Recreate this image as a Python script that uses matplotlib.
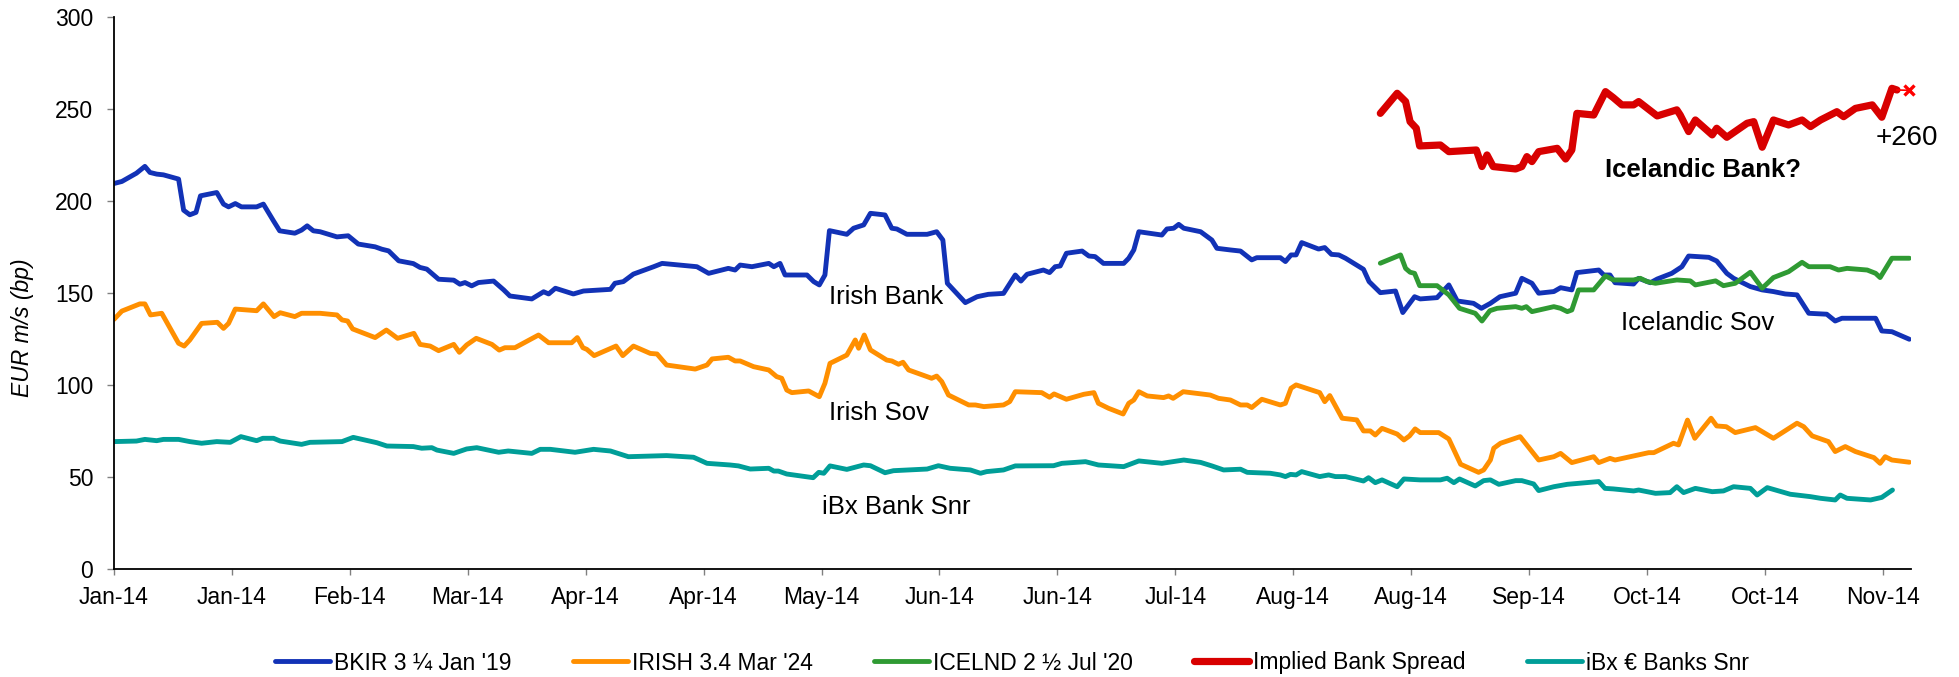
import matplotlib
matplotlib.use("Agg")
import matplotlib.pyplot as plt
import matplotlib.dates as mdates
import pandas as pd

plt.rcParams['font.family'] = ['Liberation Sans', 'DejaVu Sans']

# ---- data: day offsets from the first observation and spreads in bp ----
START = pd.Timestamp('2014-01-07')
AXIS_END_DAY = 320
TICK_STEP_DAYS = 21
N_TICKS = 16

bkir_days = [0, 1.4, 4.0, 5.5, 6.4, 7.6, 8.8, 11.5, 12.4, 13.5, 14.6, 15.4, 18.3, 19.5, 20.4, 21.6, 22.7,
             25.4, 26.6, 28.4, 29.5, 32.2, 33.4, 34.4, 35.5, 36.7, 39.7, 41.7, 43.5, 46.5, 47.7, 48.9,
             50.7, 53.3, 54.5, 55.7, 57.8, 60.5, 61.6, 62.5, 63.7, 64.9, 67.6, 69.4, 70.5, 74.4, 76.5,
             77.4, 78.6, 81.8, 83.6, 88.4, 89.2, 90.7, 92.5, 96.1, 97.6, 103.8, 105.9, 109.4, 110.6,
             111.5, 113.6, 116.6, 117.5, 118.6, 119.5, 123.4, 124.6, 125.6, 126.6, 127.4, 130.5, 131.7,
             133.5, 134.7, 137.3, 138.5, 139.4, 141.2, 144.8, 146.5, 147.6, 148.4, 151.6, 153.7, 155.7,
             158.4, 160.5, 161.5, 162.6, 165.5, 166.6, 167.6, 168.5, 169.6, 172.4, 173.6, 174.7, 176.2,
             179.8, 180.7, 181.6, 182.5, 186.6, 187.5, 188.7, 189.6, 190.5, 193.5, 195.5, 196.4, 198.8,
             200.6, 202.6, 203.5, 207.7, 208.6, 209.6, 210.5, 211.5, 214.5, 215.6, 216.8, 218.1, 219.3,
             222.5, 223.5, 225.5, 228.2, 229.5, 231.6, 232.6, 235.6, 237.7, 239.2, 242.1, 243.5, 245.1,
             246.8, 249.6, 250.7, 252.5, 253.7, 256.4, 257.6, 259.6, 260.5, 264.4, 265.3, 266.4, 267.3,
             270.6, 271.5, 273.6, 274.8, 277.4, 279.2, 280.4, 284.0, 285.4, 287.2, 288.4, 291.4, 293.5,
             295.5, 297.6, 299.7, 301.8, 305.0, 306.5, 307.7, 313.7, 314.8, 316.6, 319.7]
bkir_vals = [209.4, 210.5, 215.0, 218.7, 215.4, 214.5, 214.1, 211.8, 194.9, 192.4, 193.7, 202.7, 204.5,
             198.2, 196.7, 198.5, 196.7, 196.7, 198.2, 189.1, 183.7, 182.4, 184.1, 186.4, 183.7, 183.2,
             180.4, 181.0, 176.5, 175.0, 173.7, 172.8, 167.4, 165.9, 163.8, 162.9, 157.4, 156.9, 154.7,
             155.6, 153.8, 155.6, 156.4, 151.6, 148.3, 146.7, 150.6, 149.4, 152.5, 149.4, 151.0, 151.9,
             155.2, 156.1, 160.2, 164.2, 166.0, 164.2, 160.6, 163.3, 162.4, 165.1, 164.2, 166.0, 164.2,
             166.0, 159.7, 159.7, 156.1, 154.3, 159.7, 183.8, 181.8, 185.1, 186.9, 193.2, 192.3, 185.1,
             184.7, 181.8, 181.8, 183.2, 178.7, 155.2, 144.7, 147.9, 149.2, 149.7, 159.7, 156.4, 160.1,
             162.4, 161.0, 164.2, 164.6, 171.5, 172.7, 170.0, 169.7, 166.0, 166.0, 168.8, 173.3, 183.2,
             181.4, 184.7, 185.1, 187.2, 185.1, 183.2, 178.7, 174.2, 173.3, 172.7, 167.9, 169.1, 169.1,
             167.0, 170.6, 170.6, 177.3, 173.8, 174.6, 170.9, 170.6, 168.8, 162.8, 156.1, 150.1, 151.0,
             139.3, 147.9, 146.7, 147.4, 154.3, 145.6, 144.3, 141.6, 144.3, 147.9, 149.8, 157.9, 155.2,
             149.8, 150.7, 152.8, 151.6, 161.0, 162.4, 159.7, 159.7, 155.5, 154.8, 157.9, 155.5, 157.5,
             160.6, 164.2, 170.0, 169.3, 167.3, 160.6, 157.9, 153.4, 151.6, 150.7, 149.4, 148.9, 138.9,
             138.4, 134.7, 136.2, 136.2, 129.3, 128.9, 124.8]

irish_days = [0, 1.4, 4.6, 5.5, 6.5, 8.5, 11.5, 12.5, 13.5, 15.6, 18.4, 19.5, 20.4, 21.6, 25.4, 26.6,
              28.5, 29.6, 32.2, 33.4, 36.7, 39.7, 40.6, 41.6, 42.5, 46.5, 48.5, 50.5, 53.4, 54.5, 56.3,
              57.8, 60.5, 61.5, 62.8, 64.5, 67.3, 68.6, 69.6, 71.4, 75.6, 77.4, 81.5, 82.5, 83.5, 84.2,
              85.5, 89.4, 90.6, 92.5, 95.5, 96.7, 98.4, 103.5, 105.6, 106.5, 109.4, 110.6, 111.5, 113.9,
              116.6, 118.0, 118.9, 119.8, 120.7, 123.7, 125.6, 126.6, 127.5, 130.5, 132.0, 132.6, 133.6,
              134.7, 137.6, 138.5, 139.7, 140.5, 141.5, 145.6, 146.5, 147.4, 148.6, 152.2, 153.4, 154.9,
              158.4, 159.5, 160.5, 165.2, 166.6, 167.4, 169.6, 172.7, 174.5, 175.3, 177.1, 179.7, 180.7,
              181.6, 182.5, 184.0, 186.9, 187.8, 188.6, 190.4, 195.2, 196.7, 198.8, 200.6, 201.8, 202.6,
              204.4, 207.7, 208.6, 209.6, 210.5, 214.7, 215.6, 216.5, 218.7, 221.3, 222.5, 223.7, 224.6,
              225.8, 228.5, 229.7, 230.7, 231.7, 232.6, 235.9, 237.7, 239.8, 243.0, 243.9, 245.1, 245.7,
              246.9, 250.4, 253.7, 256.4, 257.6, 259.6, 263.5, 264.4, 266.4, 267.3, 270.6, 273.3, 274.2,
              277.7, 278.6, 280.2, 281.5, 284.4, 285.4, 287.1, 288.7, 292.3, 293.5, 295.5, 299.7, 300.9,
              302.4, 305.3, 306.5, 308.3, 310.1, 313.4, 314.5, 315.4, 316.6, 319.7]
irish_vals = [135.6, 140.1, 144.0, 144.0, 138.0, 138.9, 122.6, 121.1, 124.4, 133.4, 134.0, 130.7, 133.4,
              141.2, 140.3, 144.0, 137.1, 139.2, 137.1, 138.9, 138.9, 138.0, 135.3, 134.7, 130.4, 125.7,
              129.8, 125.3, 128.0, 122.0, 121.1, 118.6, 122.0, 117.7, 121.7, 125.3, 122.0, 118.9, 120.2,
              120.2, 127.1, 122.9, 122.9, 125.7, 120.2, 119.3, 115.9, 121.1, 115.9, 121.1, 117.1, 116.8,
              110.8, 108.6, 110.8, 114.1, 115.0, 113.0, 113.0, 109.9, 108.1, 104.5, 103.6, 97.2, 95.8,
              96.7, 93.6, 100.9, 111.7, 116.2, 124.4, 119.9, 127.1, 119.0, 113.5, 113.0, 111.2, 112.3,
              108.1, 103.6, 104.8, 101.8, 94.5, 89.1, 89.1, 88.2, 89.1, 90.9, 96.3, 95.8, 93.3, 95.1,
              92.2, 94.9, 95.8, 90.0, 87.3, 84.2, 90.0, 91.8, 96.3, 94.0, 93.1, 94.0, 92.7, 96.3, 94.5,
              92.7, 91.8, 89.1, 89.1, 87.7, 92.2, 89.1, 90.0, 98.2, 100.0, 95.8, 90.9, 94.2, 81.9, 81.0,
              75.0, 75.0, 72.8, 76.4, 73.3, 70.1, 72.3, 76.1, 74.1, 74.1, 70.6, 56.9, 52.5, 53.8, 59.2,
              65.6, 68.3, 71.9, 59.2, 61.0, 62.8, 57.8, 61.0, 57.8, 60.1, 59.2, 61.4, 63.2, 63.2, 68.3,
              67.4, 80.9, 71.0, 81.9, 77.7, 77.3, 74.1, 76.8, 74.6, 71.0, 79.2, 77.3, 72.3, 69.2, 63.8,
              66.5, 63.8, 60.5, 57.4, 61.0, 59.2, 58.0]

icelnd_days = [225.5, 229.1, 230.0, 230.8, 231.6, 232.5, 235.6, 237.7, 239.6, 242.4, 243.6, 245.0, 246.3,
               249.6, 250.7, 251.5, 252.5, 256.4, 257.6, 258.8, 259.6, 260.8, 263.5, 265.6, 267.0, 270.6,
               271.8, 273.0, 274.5, 278.3, 280.7, 281.6, 285.2, 286.6, 288.7, 291.4, 293.5, 295.5, 298.2,
               300.6, 301.8, 305.6, 307.1, 308.6, 312.2, 313.7, 314.5, 316.6, 319.7]
icelnd_vals = [166.1, 170.6, 163.3, 161.2, 160.6, 153.9, 153.9, 148.9, 141.6, 138.9, 134.7, 140.3, 141.6,
               142.5, 141.6, 142.5, 139.8, 142.5, 141.6, 139.8, 140.7, 151.6, 151.6, 159.2, 157.0, 157.0,
               157.9, 156.1, 155.2, 157.0, 156.5, 154.3, 156.5, 153.9, 155.2, 161.2, 152.5, 158.3, 161.5,
               166.6, 164.2, 164.2, 162.4, 163.3, 162.4, 160.6, 158.3, 168.8, 168.8]

implied_days = [225.5, 228.5, 230.0, 230.8, 231.9, 232.5, 236.2, 237.7, 242.6, 243.6, 244.5, 245.6, 249.6,
                250.7, 251.6, 252.5, 253.7, 257.0, 258.5, 259.6, 260.5, 263.5, 265.6, 267.0, 268.5, 270.6,
                271.5, 274.8, 278.3, 278.9, 280.4, 281.6, 284.6, 285.4, 287.2, 290.8, 292.0, 293.5, 295.5,
                298.2, 300.6, 302.1, 303.9, 306.8, 308.0, 310.1, 313.1, 314.8, 316.6, 317.5]
implied_vals = [247.5, 258.4, 253.9, 243.0, 239.4, 229.8, 230.3, 226.7, 227.6, 218.6, 224.9, 218.6, 217.3,
                218.6, 224.0, 221.3, 226.7, 228.5, 222.7, 227.6, 247.5, 246.6, 259.3, 256.0, 252.1, 252.1,
                253.9, 246.1, 249.4, 246.6, 237.6, 243.9, 235.8, 239.4, 234.5, 242.1, 243.0, 229.1, 243.9,
                241.2, 243.9, 240.3, 243.9, 248.4, 245.7, 250.2, 252.1, 245.4, 261.1, 260.2]

# latest implied spread, marked with a cross and labelled
latest_day = 319.7
latest_spread = 260

ibx_days = [0, 4.0, 5.5, 7.6, 8.8, 11.5, 13.5, 15.6, 18.3, 20.7, 22.6, 25.4, 26.5, 28.4, 29.6, 33.4, 34.9,
            40.6, 42.6, 46.8, 48.6, 53.3, 54.8, 56.6, 57.5, 60.5, 62.8, 64.6, 68.5, 70.2, 74.4, 75.9, 77.7,
            82.1, 85.4, 88.4, 91.6, 98.4, 103.2, 105.6, 109.7, 111.2, 113.3, 116.6, 117.5, 118.3, 119.8,
            124.5, 125.5, 126.4, 127.5, 130.5, 133.5, 134.7, 137.3, 138.8, 144.8, 146.8, 148.9, 152.5,
            154.3, 155.4, 158.4, 160.5, 167.3, 168.8, 173.0, 175.3, 179.8, 182.5, 186.6, 190.5, 193.5,
            195.5, 197.6, 200.6, 201.8, 205.9, 207.7, 208.6, 209.5, 210.5, 211.5, 214.7, 216.3, 217.5,
            219.3, 222.5, 223.4, 224.6, 225.8, 228.5, 229.7, 232.6, 236.2, 237.4, 238.6, 239.6, 242.4,
            243.9, 245.1, 246.6, 249.6, 250.7, 252.8, 253.7, 256.4, 258.8, 264.4, 265.5, 267.0, 270.6,
            271.5, 274.5, 277.1, 278.3, 279.5, 281.6, 284.6, 286.6, 288.4, 291.4, 292.6, 294.4, 298.5,
            302.1, 303.9, 306.5, 307.4, 308.6, 312.8, 314.8, 316.7]
ibx_vals = [69.2, 69.5, 70.4, 69.7, 70.4, 70.4, 69.2, 68.3, 69.2, 68.8, 71.9, 69.7, 71.0, 71.0, 69.5, 67.7,
            68.8, 69.2, 71.5, 68.6, 66.8, 66.5, 65.6, 65.9, 64.6, 62.8, 65.2, 65.9, 63.4, 64.1, 62.8, 65.0,
            65.0, 63.4, 65.0, 64.1, 61.0, 61.6, 60.7, 57.4, 56.5, 56.0, 54.3, 54.7, 53.2, 53.2, 51.6, 49.6,
            52.5, 52.0, 56.0, 54.1, 56.5, 56.1, 52.3, 53.4, 54.3, 56.1, 54.7, 53.8, 52.0, 52.9, 53.8, 56.0,
            56.1, 57.4, 58.3, 56.5, 55.6, 58.7, 57.4, 59.2, 57.9, 56.0, 53.8, 54.2, 52.5, 52.0, 51.1, 50.2,
            51.4, 51.1, 52.9, 50.2, 51.1, 50.2, 50.2, 47.8, 49.6, 46.9, 48.4, 44.7, 48.9, 48.4, 48.4, 49.3,
            46.9, 48.9, 45.1, 48.0, 48.4, 46.0, 48.0, 48.0, 46.2, 42.6, 44.7, 46.0, 47.5, 43.8, 43.5, 42.4,
            42.9, 41.1, 41.5, 44.7, 41.5, 43.8, 42.0, 42.4, 44.7, 43.8, 40.2, 44.2, 40.6, 39.3, 38.4, 37.5,
            40.2, 38.4, 37.5, 38.9, 42.9]

series_labels = ["BKIR 3 ¼ Jan '19", "IRISH 3.4 Mar '24", "ICELND 2 ½ Jul '20",
                 "Implied Bank Spread", "iBx € Banks Snr"]
y_ticks = [0, 50, 100, 150, 200, 250, 300]


def to_dates(days):
    return START + pd.to_timedelta(days, unit='D')


# ---- figure ----
W, H = 1959, 677
fig = plt.figure(figsize=(W / 100, H / 100), dpi=100)
ax = fig.add_axes([114 / W, 1 - 569 / H, (1911 - 114) / W, (569 - 16.7) / H])

BLUE = '#1232B6'
ORANGE = '#FF8F00'
GREEN = '#2F9A33'
RED = '#D80000'
TEAL = '#009E98'

line_kw = dict(solid_joinstyle='round', solid_capstyle='round')
h1, = ax.plot(to_dates(bkir_days), bkir_vals, color=BLUE, lw=3.5, **line_kw)
h2, = ax.plot(to_dates(irish_days), irish_vals, color=ORANGE, lw=3.5, **line_kw)
h3, = ax.plot(to_dates(icelnd_days), icelnd_vals, color=GREEN, lw=3.5, **line_kw)
h4, = ax.plot(to_dates(implied_days), implied_vals, color=RED, lw=5.2, **line_kw)
h5, = ax.plot(to_dates(ibx_days), ibx_vals, color=TEAL, lw=3.5, **line_kw)

# short connector and cross on the most recent implied spread
ax.plot(to_dates([implied_days[-1], latest_day]), [implied_vals[-1], latest_spread],
        color='#FF0000', lw=1.2)
ax.plot(to_dates([latest_day]), [latest_spread], linestyle='none', marker='x',
        color='#FF0000', markersize=7, markeredgewidth=2.4, clip_on=False)

# axes styling
ax.set_ylim(0, 300)
ax.set_yticks(y_ticks)
ax.set_xlim(START, START + pd.Timedelta(days=AXIS_END_DAY))
ax.set_xticks(list(pd.date_range(START, periods=N_TICKS, freq=f'{TICK_STEP_DAYS}D')))
ax.xaxis.set_major_formatter(mdates.DateFormatter('%b-%y'))
for side in ('top', 'right'):
    ax.spines[side].set_visible(False)
for side in ('left', 'bottom'):
    ax.spines[side].set_linewidth(1.3)
    ax.spines[side].set_color('black')
ax.tick_params(axis='y', direction='out', length=5, width=1, color='#808080',
               labelsize=16.5, pad=10)
ax.tick_params(axis='x', direction='out', length=4.5, width=1, color='#808080',
               labelsize=16.5, pad=8)

fig.text(22 / W, 1 - 327.5 / H, 'EUR m/s (bp)', rotation=90, style='italic',
         ha='center', va='center', fontsize=16.5)


def day_date(d):
    return START + pd.Timedelta(days=d)


# series annotations
ax.text(day_date(137.5), 147.7, 'Irish Bank', ha='center', va='center', fontsize=18.5)
ax.text(day_date(136.3), 84.7, 'Irish Sov', ha='center', va='center', fontsize=18.5)
ax.text(day_date(139.3), 33.7, 'iBx Bank Snr', ha='center', va='center', fontsize=18.5)
ax.text(day_date(282.0), 133.6, 'Icelandic Sov', ha='center', va='center', fontsize=18.5)
ax.text(day_date(282.9), 216.7, 'Icelandic Bank?', ha='center', va='center', fontsize=18.5,
        fontweight='bold')
ax.text(day_date(319.2), 234, f'+{latest_spread}', ha='center', va='center', fontsize=20,
        clip_on=False)

fig.legend([h1, h2, h3, h4, h5], series_labels, loc='center',
           bbox_to_anchor=(1012 / W, 1 - 663 / H), ncol=5, frameon=False, fontsize=16.5,
           handlelength=2.4, handletextpad=0.15, columnspacing=2.7)

fig.savefig('out.png', dpi=100)
